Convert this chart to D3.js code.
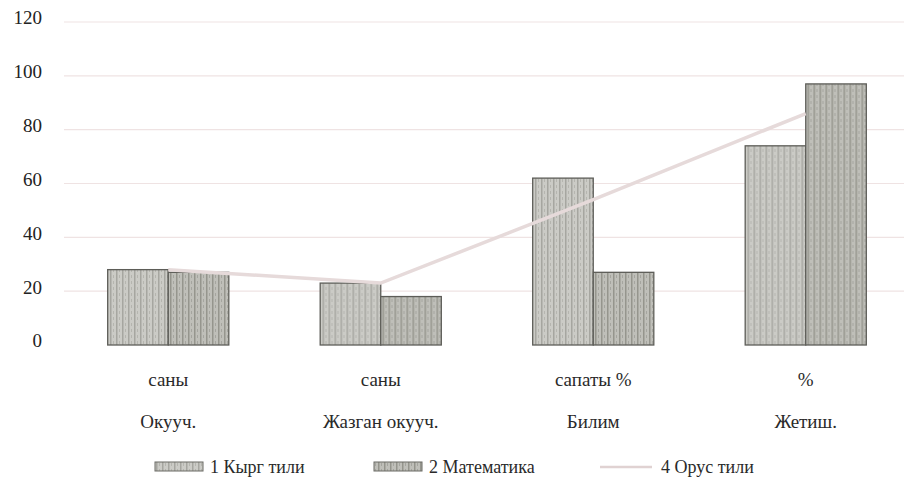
<!DOCTYPE html>
<html>
<head>
<meta charset="utf-8">
<script src="https://cdn.jsdelivr.net/npm/d3@7/dist/d3.min.js"></script>
<style>
  html, body { margin: 0; padding: 0; background: #fff; }
  svg { display: block; font-family: "Liberation Serif", "DejaVu Serif", serif; }
  .cat-label  { font-size: 19px; fill: #2a2a2a; }
  .legend-text { font-size: 18px; fill: #2a2a2a; }
</style>
</head>
<body>
<svg id="chart"></svg>
<script>
const CAT_TOP    = ["саны", "саны", "сапаты %", "%"];
const CAT_BOTTOM = ["Окууч.", "Жазган окууч.", "Билим", "Жетиш."];
const CATEGORIES = CAT_BOTTOM;
const KYRG   = [28, 23, 62, 74];
const MATH   = [27, 18, 27, 97];
const ORUS   = [28, 23, 54, 86];
const Y_TICKS = [0, 20, 40, 60, 80, 100, 120];
const SERIES_NAMES = ["1 Кырг тили", "2 Математика", "4 Орус тили"];

const W = 904, H = 488;
const M = { top: 22, right: -8, bottom: 143, left: 62 };
const innerW = W - M.left - M.right;
const innerH = H - M.top - M.bottom;

const svg = d3.select("#chart").attr("width", W).attr("height", H);

// striped fills, like the scanned bars
const defs = svg.append("defs");
function stripes(id, base, line) {
  const p = defs.append("pattern")
    .attr("id", id).attr("patternUnits", "userSpaceOnUse")
    .attr("width", 6).attr("height", 6);
  p.append("rect").attr("width", 6).attr("height", 6).attr("fill", base);
  p.append("rect").attr("x", 0).attr("width", 1.5).attr("height", 6).attr("fill", line);
  p.append("rect").attr("x", 3).attr("y", 1).attr("width", 1).attr("height", 3).attr("fill", line).attr("opacity", 0.6);
}
stripes("fill1", "#cbcbc6", "#a6a6a0");
stripes("fill2", "#bfbfb9", "#95958d");

const g = svg.append("g").attr("transform", `translate(${M.left},${M.top})`);

const x0 = d3.scaleBand().domain(CATEGORIES).range([0, innerW]).paddingInner(0).paddingOuter(0);
const x1 = d3.scaleBand().domain(["kyrg", "math"]).range([x0.bandwidth() * 0.215, x0.bandwidth() * 0.785]);
const y  = d3.scaleLinear().domain([0, 120]).range([innerH, 0]);

// gridlines (faint, as in the photocopy)
g.append("g")
  .selectAll("line")
  .data(Y_TICKS.filter(d => d > 0))
  .join("line")
    .attr("x1", 2).attr("x2", innerW)
    .attr("y1", d => y(d)).attr("y2", d => y(d))
    .attr("stroke", "#efe3e3").attr("stroke-width", 1.2);

// y axis labels
g.append("g")
  .call(d3.axisLeft(y).tickValues(Y_TICKS).tickSize(0).tickPadding(20))
  .call(ax => ax.select(".domain").remove())
  .selectAll("text")
    .style("font-family", "'Liberation Serif', 'DejaVu Serif', serif")
    .style("font-size", "19px")
    .style("fill", "#222")
    .attr("dy", "0.1em");

// bars
const rows = CATEGORIES.map((c, i) => ({ cat: c, kyrg: KYRG[i], math: MATH[i] }));
const grp = g.selectAll(".grp").data(rows).join("g")
  .attr("transform", d => `translate(${x0(d.cat)},0)`);
grp.selectAll("rect")
  .data(d => [{ key: "kyrg", v: d.kyrg }, { key: "math", v: d.math }])
  .join("rect")
    .attr("x", d => x1(d.key))
    .attr("y", d => y(d.v))
    .attr("width", x1.bandwidth())
    .attr("height", d => y(0) - y(d.v))
    .attr("fill", d => d.key === "kyrg" ? "url(#fill1)" : "url(#fill2)")
    .attr("stroke", "#5d5d58").attr("stroke-width", 1.3);

// line series
const line = d3.line()
  .x((d, i) => x0(CATEGORIES[i]) + x0.bandwidth() / 2)
  .y(d => y(d));
g.append("path")
  .datum(ORUS)
  .attr("d", line)
  .attr("fill", "none")
  .attr("stroke", "#e6dada")
  .attr("stroke-width", 3.5);

// two-level category labels
CATEGORIES.forEach((c, i) => {
  const cx = x0(c) + x0.bandwidth() / 2;
  g.append("text").attr("class", "cat-label")
    .attr("x", cx).attr("y", innerH + 41)
    .attr("text-anchor", "middle").text(CAT_TOP[i]);
  g.append("text").attr("class", "cat-label")
    .attr("x", cx).attr("y", innerH + 83)
    .attr("text-anchor", "middle").text(CAT_BOTTOM[i]);
});

// legend
const legend = svg.append("g").attr("transform", `translate(0,${H - 20})`);
const items = [
  { x: 155, type: "bar", fill: "url(#fill1)", name: SERIES_NAMES[0] },
  { x: 374, type: "bar", fill: "url(#fill2)", name: SERIES_NAMES[1] },
  { x: 600, type: "line", name: SERIES_NAMES[2] },
];
items.forEach(it => {
  if (it.type === "bar") {
    legend.append("rect")
      .attr("x", it.x).attr("y", -6).attr("width", 48).attr("height", 9)
      .attr("fill", it.fill).attr("stroke", "#6a6a64").attr("stroke-width", 1);
  } else {
    legend.append("line")
      .attr("x1", it.x).attr("x2", it.x + 52).attr("y1", -1).attr("y2", -1)
      .attr("stroke", "#e0d2d2").attr("stroke-width", 2.5);
  }
  legend.append("text").attr("class", "legend-text")
    .attr("x", it.x + (it.type === "bar" ? 55 : 61)).attr("y", 5)
    .text(it.name);
});
</script>
</body>
</html>
